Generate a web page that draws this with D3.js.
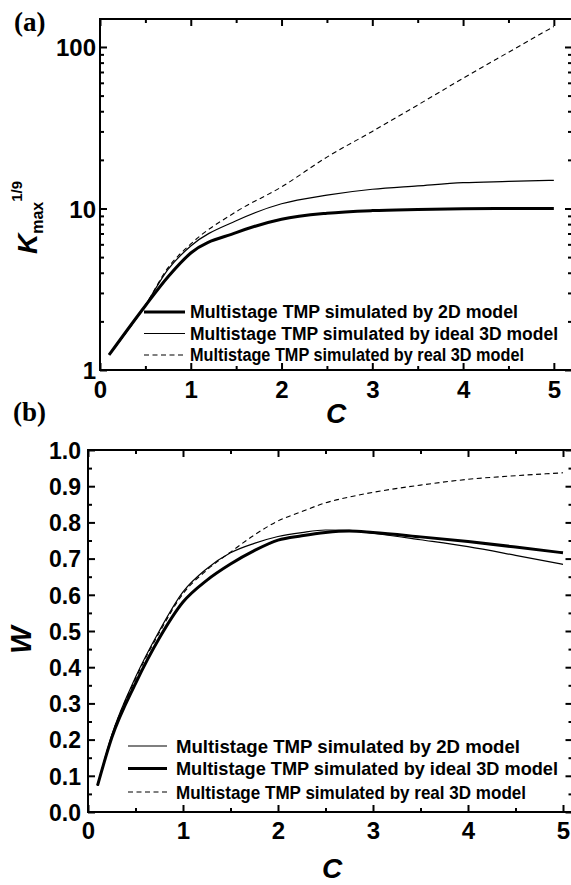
<!DOCTYPE html>
<html>
<head>
<meta charset="utf-8">
<script src="https://cdn.jsdelivr.net/npm/d3@7"></script>
<style>
  body { margin: 0; background: #fff; }
  svg { display: block; }
  .tick text { font-family: "Liberation Sans", Arial, sans-serif; font-weight: bold; }
</style>
</head>
<body>
<svg id="chart" width="571" height="885"></svg>
<script>
// Panel (a) data: C vs Kmax^(1/9)
let cTop = [0.1, 0.5, 0.75, 1, 1.5, 2, 2.5, 3, 3.5, 4, 4.5, 5];
let kTop2D = [1.24, 2.5, 3.78, 5.3, 7.08, 8.58, 9.34, 9.7, 9.85, 9.95, 10.0, 10.0];
let kTopIdeal = [1.24, 2.52, 4.2, 5.86, 8.4, 10.7, 12.1, 13.15, 13.8, 14.45, 14.7, 14.95];
let kTopReal = [1.24, 2.52, 4.3, 6.03, 9.55, 13.6, 20.8, 30, 43.7, 64, 92.7, 134];

// Panel (b) data: C vs W
let cBot = [0.1, 0.25, 0.5, 0.75, 1, 1.25, 1.5, 1.75, 2, 2.25, 2.5, 2.75, 3, 3.5, 4, 4.5, 5];
let wBot2D = [0.073, 0.212, 0.372, 0.5, 0.608, 0.672, 0.716, 0.742, 0.761, 0.772, 0.779, 0.778, 0.770, 0.752, 0.733, 0.709, 0.684];
let wBotIdeal = [0.073, 0.205, 0.355, 0.48, 0.58, 0.64, 0.685, 0.722, 0.751, 0.763, 0.772, 0.776, 0.772, 0.760, 0.747, 0.732, 0.716];
let wBotReal = [0.073, 0.21, 0.368, 0.495, 0.603, 0.668, 0.718, 0.765, 0.804, 0.830, 0.854, 0.870, 0.883, 0.903, 0.919, 0.929, 0.937];

let legendTop = ["Multistage TMP simulated by 2D model", "Multistage TMP simulated by ideal 3D model", "Multistage TMP simulated by real 3D model"];
let legendBot = ["Multistage TMP simulated by 2D model", "Multistage TMP simulated by ideal 3D model", "Multistage TMP simulated by real 3D model"];

let xTicks = [0, 1, 2, 3, 4, 5];
let kTicks = [1, 10, 100];
let wTicks = [0, 0.1, 0.2, 0.3, 0.4, 0.5, 0.6, 0.7, 0.8, 0.9, 1.0];

let svg = d3.select("#chart");
let sans = "'Liberation Sans', Arial, sans-serif";

let styles = {
    thick: { w: 3, dash: null },
    thin: { w: 1.2, dash: null },
    dashed: { w: 1.1, dash: "5,3.5" }
};

function frame(x, y) {
    let [x0, x1] = x.range(), [y0, y1] = y.range();
    svg.append("rect")
        .attr("x", x0).attr("y", y1)
        .attr("width", x1 - x0).attr("height", y0 - y1)
        .attr("fill", "none").attr("stroke", "#000").attr("stroke-width", 2);
}

function ticks(axis, vals, len) {
    return axis.tickValues(vals).tickSize(-len).tickSizeOuter(0);
}

function drawAxes(x, y, yMajor, yMinor, xMinor, yFmt, fs) {
    let [x0, x1] = x.range(), [y0, y1] = y.range();

    // bottom with labels
    let gb = svg.append("g").attr("transform", `translate(0,${y0})`)
        .call(ticks(d3.axisBottom(x), xTicks, 7).tickFormat(d3.format("d")));
    gb.selectAll(".tick text").attr("font-size", fs.x).attr("dy", 0).attr("y", fs.xy);
    svg.append("g").attr("transform", `translate(0,${y0})`)
        .call(ticks(d3.axisBottom(x), xMinor, 4).tickFormat(""));
    // top
    svg.append("g").attr("transform", `translate(0,${y1})`)
        .call(ticks(d3.axisTop(x), xTicks, 7).tickFormat(""));
    svg.append("g").attr("transform", `translate(0,${y1})`)
        .call(ticks(d3.axisTop(x), xMinor, 4).tickFormat(""));
    // left with labels
    let gl = svg.append("g").attr("transform", `translate(${x0},0)`)
        .call(ticks(d3.axisLeft(y), yMajor, 7).tickFormat(yFmt));
    gl.selectAll(".tick text").attr("font-size", fs.y).attr("x", -fs.yx).attr("dy", "0.36em");
    svg.append("g").attr("transform", `translate(${x0},0)`)
        .call(ticks(d3.axisLeft(y), yMinor, 4).tickFormat(""));
    // right
    svg.append("g").attr("transform", `translate(${x1},0)`)
        .call(ticks(d3.axisRight(y), yMajor, 7).tickFormat(""));
    svg.append("g").attr("transform", `translate(${x1},0)`)
        .call(ticks(d3.axisRight(y), yMinor, 4).tickFormat(""));

    svg.selectAll(".domain").remove();
    svg.selectAll(".tick line").attr("stroke", "#000").attr("stroke-width", 2);
}

function drawLine(x, y, cs, vs, style, curve) {
    let line = d3.line().x(d => x(d[0])).y(d => y(d[1])).curve(curve);
    svg.append("path")
        .datum(cs.map((c, i) => [c, vs[i]]))
        .attr("d", line)
        .attr("fill", "none")
        .attr("stroke", "#000")
        .attr("stroke-width", style.w)
        .attr("stroke-dasharray", style.dash);
}

function legend(items, x0, x1, tx, ys, fs, len) {
    items.forEach((it, i) => {
        svg.append("line")
            .attr("x1", x0).attr("x2", x1).attr("y1", ys[i]).attr("y2", ys[i])
            .attr("stroke", "#000")
            .attr("stroke-width", it.style.w)
            .attr("stroke-dasharray", it.style.dash);
        svg.append("text")
            .attr("x", tx).attr("y", ys[i]).attr("dy", "0.36em")
            .attr("font-family", sans).attr("font-weight", "bold")
            .attr("font-size", fs)
            .attr("textLength", len[i]).attr("lengthAdjust", "spacingAndGlyphs")
            .text(it.label);
    });
}

// ---------- Panel (a) ----------
let xA = d3.scaleLinear().domain([0, 5.2]).range([100, 572]);
let yA = d3.scaleLog().domain([1, 149]).range([370, 19]);
let logMinor = [];
[1, 10, 100].forEach(d => { for (let m = 2; m <= 9; m++) if (d * m < 149) logMinor.push(d * m); });

drawAxes(xA, yA, kTicks, logMinor, [0.5, 1.5, 2.5, 3.5, 4.5],
    d3.format("d"), { x: 24, xy: 28, y: 24, yx: 4 });
frame(xA, yA);

drawLine(xA, yA, cTop, kTopReal, styles.dashed, d3.curveMonotoneX);
drawLine(xA, yA, cTop, kTopIdeal, styles.thin, d3.curveMonotoneX);
drawLine(xA, yA, cTop, kTop2D, styles.thick, d3.curveMonotoneX);

legend([
    { label: legendTop[0], style: styles.thick },
    { label: legendTop[1], style: styles.thin },
    { label: legendTop[2], style: styles.dashed }
], 144, 185, 190, [312, 333.5, 355], 17.5, [328, 368, 334]);

svg.append("text").attr("x", 14).attr("y", 31)
    .attr("font-family", "'Liberation Serif', 'Times New Roman', serif")
    .attr("font-weight", "bold").attr("font-size", 27).text("(a)");

svg.append("text").attr("x", 336).attr("y", 423).attr("text-anchor", "middle")
    .attr("font-family", sans).attr("font-weight", "bold").attr("font-style", "italic")
    .attr("font-size", 28).text("C");

let kLab = svg.append("text").attr("transform", "translate(37,254) rotate(-90)")
    .attr("font-family", sans).attr("font-weight", "bold");
kLab.append("tspan").attr("font-size", 28).attr("font-style", "italic").text("K");
kLab.append("tspan").attr("font-size", 16).attr("dy", 6).text("max");
kLab.append("tspan").attr("font-size", 15).attr("dy", -21).text("1/9");

// ---------- Panel (b) ----------
let xB = d3.scaleLinear().domain([0, 5.1]).range([88, 572.5]);
let yB = d3.scaleLinear().domain([0, 1]).range([812, 450]);
let wMinor = d3.range(0.05, 1, 0.1);

drawAxes(xB, yB, wTicks, wMinor, [0.5, 1.5, 2.5, 3.5, 4.5],
    d3.format(".1f"), { x: 24, xy: 27, y: 23, yx: 7 });
frame(xB, yB);

drawLine(xB, yB, cBot, wBotReal, styles.dashed, d3.curveMonotoneX);
drawLine(xB, yB, cBot, wBot2D, styles.thin, d3.curveMonotoneX);
drawLine(xB, yB, cBot, wBotIdeal, styles.thick, d3.curveMonotoneX);

legend([
    { label: legendBot[0], style: styles.thin },
    { label: legendBot[1], style: styles.thick },
    { label: legendBot[2], style: styles.dashed }
], 128, 167, 176, [746, 768.5, 792], 18.2, [344, 382, 350]);

svg.append("text").attr("x", 13).attr("y", 421)
    .attr("font-family", "'Liberation Serif', 'Times New Roman', serif")
    .attr("font-weight", "bold").attr("font-size", 27).text("(b)");

svg.append("text").attr("x", 332).attr("y", 878).attr("text-anchor", "middle")
    .attr("font-family", sans).attr("font-weight", "bold").attr("font-style", "italic")
    .attr("font-size", 28).text("C");

svg.append("text").attr("transform", "translate(31,640) rotate(-90)")
    .attr("text-anchor", "middle")
    .attr("font-family", sans).attr("font-weight", "bold").attr("font-style", "italic")
    .attr("font-size", 29).text("W");
</script>
</body>
</html>
